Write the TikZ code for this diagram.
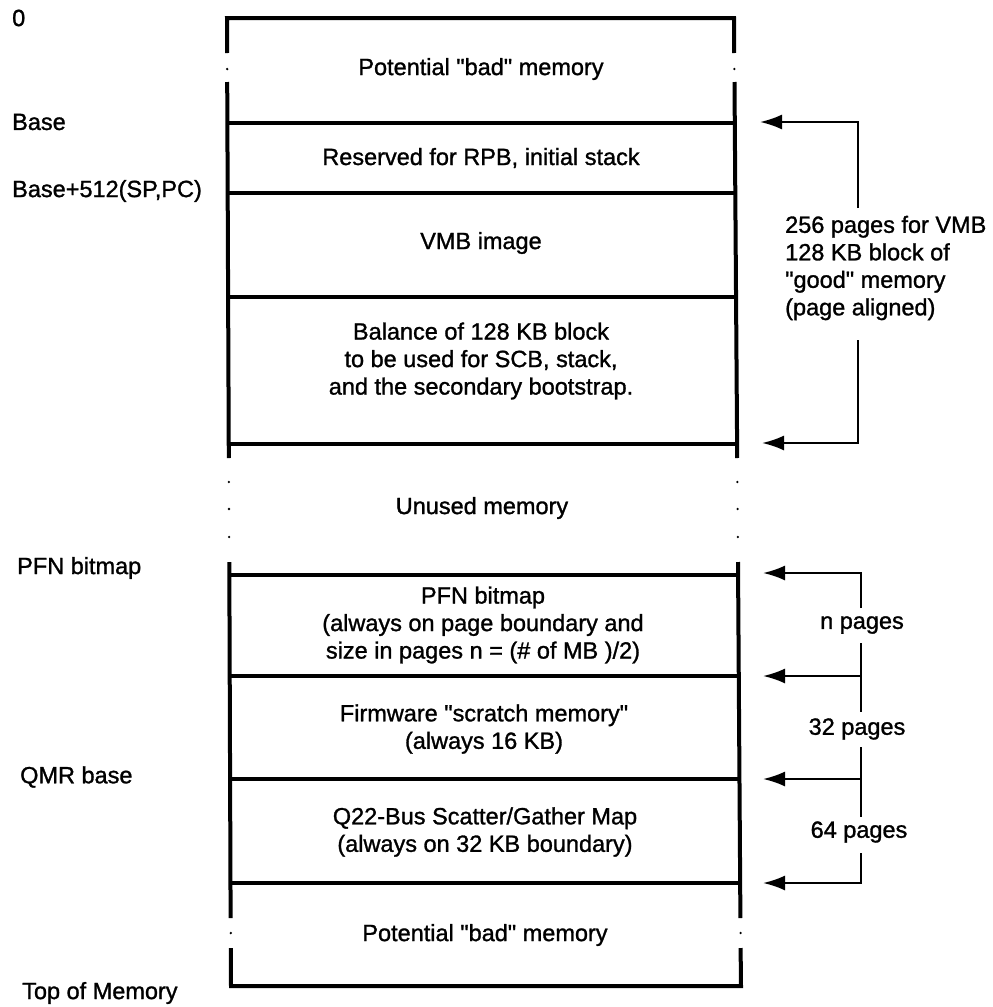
\documentclass[tikz,border=0pt]{standalone}
\usepackage{fontspec}
\setmainfont{Liberation Sans}[FakeBold=1.2,Ligatures=TeXOff]
\usetikzlibrary{arrows.meta}
\begin{document}
\begin{tikzpicture}[x=1pt,y=-1pt,
  wall/.style={line width=4pt,line join=miter},
  brk/.style={line width=2.2pt},
  ptr/.style={brk,-{Latex[length=22pt,width=15pt]}},
  dotmark/.style={circle,fill,inner sep=0pt,minimum size=2.6pt},
  lbl/.style={font=\fontsize{23.5}{27.5}\selectfont,inner sep=0pt},
  cell/.style={lbl,align=center},
  addr/.style={lbl,anchor=west},
]
\useasboundingbox (0,0) rectangle (993,1007);

% ---- memory column outline ----
\draw[wall] (227.1,53) -- (227,18) -- (734,18) -- (734.2,53);
\draw[wall] (227.2,82) -- (228.8,458);
\draw[wall] (734.5,82) -- (737.2,458);
\draw[wall] (229.3,562) -- (230.6,918);
\draw[wall] (738,562) -- (740.4,918);
\draw[wall] (230.8,948) -- (231,986) -- (741,986) -- (740.6,948);

% separators
\draw[wall] (227.4,123) -- (734.8,123);
\draw[wall] (227.7,193) -- (735.3,193);
\draw[wall] (228.2,297) -- (736,297);
\draw[wall] (228.8,444) -- (737.1,444);
\draw[wall] (229.3,575) -- (738,575);
\draw[wall] (229.7,676) -- (738.8,676);
\draw[wall] (230.1,779) -- (739.5,779);
\draw[wall] (230.6,883) -- (740.3,883);

% dots in the broken edges
\node[dotmark] (d1l) at (227.2,69) {};
\node[dotmark] (d1r) at (734.4,69) {};
\node[dotmark] (d2l) at (228.9,482) {};
\node[dotmark] (d2r) at (737.4,482) {};
\node[dotmark] (d3l) at (229.0,509) {};
\node[dotmark] (d3r) at (737.6,509) {};
\node[dotmark] (d4l) at (229.1,537) {};
\node[dotmark] (d4r) at (737.8,537) {};
\node[dotmark] (d5l) at (230.8,933) {};
\node[dotmark] (d5r) at (740.6,933) {};

% ---- cell texts ----
\node[cell] (c1) at (481,69) {Potential "bad" memory};
\node[cell] (c2) at (481,158) {Reserved for RPB, initial stack};
\node[cell] (c3) at (481,243) {VMB image};
\node[cell] (c4) at (481,361) {Balance of 128 KB block\\to be used for SCB, stack,\\and the secondary bootstrap.};
\node[cell] (c5) at (482,508) {Unused memory};
\node[cell] (c6) at (483,625) {PFN bitmap\\(always on page boundary and\\size in pages n = (\# of MB )/2)};
\node[cell] (c7) at (484,729) {Firmware "scratch memory"\\(always 16 KB)};
\node[cell] (c8) at (485,832) {Q22-Bus Scatter/Gather Map\\(always on 32 KB boundary)};
\node[cell] (c9) at (485,935) {Potential "bad" memory};

% ---- address labels ----
\node[addr] (a0) at (12,18) {0};
\node[addr] (a1) at (12,122) {Base};
\node[addr] (a2) at (12,191) {Base+512(SP,PC)};
\node[addr] (a3) at (17,568) {PFN bitmap};
\node[addr] (a4) at (20,777) {QMR base};
\node[addr] (a5) at (22,993) {Top of Memory};

% ---- upper bracket ----
\coordinate (ut1) at (760,122);
\coordinate (ut2) at (762,443);
\coordinate (ug1) at (858,208);
\coordinate (ug2) at (858,340);
\draw[ptr] (ug1) |- (ut1);
\draw[ptr] (ug2) |- (ut2);
\node[lbl,anchor=west,align=left] (unote) at (785,268)
  {256 pages for VMB\\128 KB block of\\"good" memory\\(page aligned)};

% ---- lower bracket ----
\coordinate (lt1) at (763,573);
\coordinate (lt2) at (763,676);
\coordinate (lt3) at (763,779);
\coordinate (lt4) at (763,883);
\coordinate (lb1) at (861,608);
\coordinate (lb2a) at (861,643);
\coordinate (lb2b) at (861,712);
\coordinate (lb3a) at (861,747);
\coordinate (lb3b) at (861,817);
\coordinate (lb4) at (861,853);
\coordinate (lm2) at (861,676);
\coordinate (lm3) at (861,779);
\draw[ptr] (lb1) |- (lt1);
\draw[brk] (lb2a) -- (lb2b);
\draw[ptr] (lm2) -- (lt2);
\draw[brk] (lb3a) -- (lb3b);
\draw[ptr] (lm3) -- (lt3);
\draw[ptr] (lb4) |- (lt4);
\node[lbl] (n1) at (862,625) {n pages};
\node[lbl] (n2) at (857,729) {32 pages};
\node[lbl] (n3) at (859,832) {64 pages};
\end{tikzpicture}
\end{document}
